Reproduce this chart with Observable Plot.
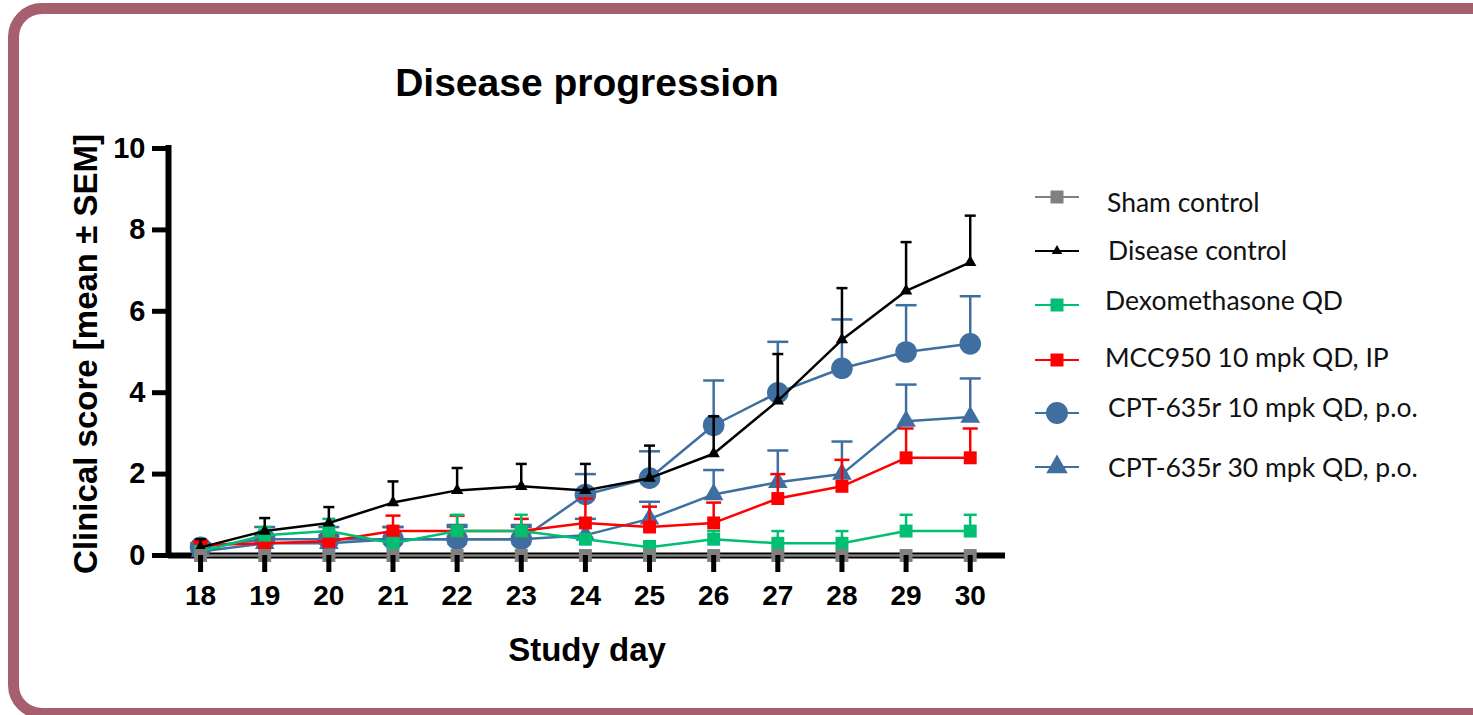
<!DOCTYPE html>
<html>
<head>
<meta charset="utf-8">
<script src="https://cdn.jsdelivr.net/npm/d3@7"></script>
<script src="https://cdn.jsdelivr.net/npm/@observablehq/plot@0.6"></script>
<style>
  html, body { margin: 0; padding: 0; background: #fff; overflow: hidden; }
  #wrap { position: relative; width: 1473px; height: 715px; overflow: hidden; background: #fff; }
  #border { position: absolute; left: 8px; top: 3px; width: 1600px; height: 716px; box-sizing: border-box;
            border: 11px solid #a65f6e; border-radius: 34px; }
  #chart, #legend { position: absolute; left: 0; top: 0; }
</style>
</head>
<body>
<div id="wrap"><div id="border"></div><div id="chart"></div><div id="legend"></div></div>
<script>
// ---- data ----
const days = [18, 19, 20, 21, 22, 23, 24, 25, 26, 27, 28, 29, 30];
const yTicks = [0, 2, 4, 6, 8, 10];

const seriesNames = ["Sham control", "Disease control", "Dexomethasone QD",
  "MCC950 10 mpk QD, IP", "CPT-635r 10 mpk QD, p.o.", "CPT-635r 30 mpk QD, p.o."];

const shamMean    = [0, 0, 0, 0, 0, 0, 0, 0, 0, 0, 0, 0, 0];
const shamSem     = [0, 0, 0, 0, 0, 0, 0, 0, 0, 0, 0, 0, 0];
const diseaseMean = [0.2, 0.6, 0.8, 1.3, 1.6, 1.7, 1.6, 1.9, 2.5, 3.8, 5.3, 6.5, 7.2];
const diseaseSem  = [0.2, 0.32, 0.39, 0.52, 0.55, 0.55, 0.65, 0.8, 0.92, 1.15, 1.27, 1.2, 1.15];
const dexMean     = [0.1, 0.5, 0.6, 0.3, 0.6, 0.6, 0.4, 0.2, 0.4, 0.3, 0.3, 0.6, 0.6];
const dexSem      = [0.1, 0.2, 0.3, 0.1, 0.4, 0.4, 0.1, 0.15, 0.2, 0.3, 0.3, 0.4, 0.4];
const mccMean     = [0.25, 0.3, 0.35, 0.6, 0.6, 0.6, 0.8, 0.7, 0.8, 1.4, 1.7, 2.4, 2.4];
const mccSem      = [0.1, 0.1, 0.15, 0.38, 0.38, 0.3, 0.6, 0.5, 0.5, 0.6, 0.65, 0.72, 0.72];
const cpt10Mean   = [0.2, 0.4, 0.4, 0.4, 0.4, 0.4, 1.5, 1.9, 3.2, 4.0, 4.6, 5.0, 5.2];
const cpt10Sem    = [0.1, 0.3, 0.3, 0.3, 0.35, 0.35, 0.5, 0.66, 1.1, 1.25, 1.2, 1.15, 1.17];
const cpt30Mean   = [0.1, 0.3, 0.3, 0.4, 0.4, 0.4, 0.5, 0.9, 1.5, 1.8, 2.0, 3.3, 3.4];
const cpt30Sem    = [0.1, 0.2, 0.2, 0.3, 0.3, 0.3, 0.4, 0.42, 0.6, 0.78, 0.8, 0.9, 0.95];

// ---- styles ----
const series = [
  {name: seriesNames[0], mean: shamMean,    sem: shamSem,    color: "#808080", symbol: "square",   r: 7.3, capR: 0},
  {name: seriesNames[1], mean: diseaseMean, sem: diseaseSem, color: "#000000", symbol: "triangle", r: 4.6, capR: 5.5},
  {name: seriesNames[2], mean: dexMean,     sem: dexSem,     color: "#00bf73", symbol: "square",   r: 7.3, capR: 6.5},
  {name: seriesNames[3], mean: mccMean,     sem: mccSem,     color: "#ff0000", symbol: "square",   r: 7.3, capR: 7.5},
  {name: seriesNames[4], mean: cpt10Mean,   sem: cpt10Sem,   color: "#3f6fa0", symbol: "circle",   r: 10.8, capR: 10.5},
  {name: seriesNames[5], mean: cpt30Mean,   sem: cpt30Sem,   color: "#3f6fa0", symbol: "triangle", r: 7.3, capR: 10.5}
];

const capSymbol = {
  draw(context, size) {
    const w = Math.sqrt(size / Math.PI);
    context.moveTo(-w, 0);
    context.lineTo(w, 0);
  }
};

const xDomain = [17.5, 30.55];
const marks = [];

// axis lines
marks.push(Plot.ruleY([0], {stroke: "black", strokeWidth: 6}));
marks.push(Plot.ruleX([xDomain[0]], {y1: 0, y2: yTicks[yTicks.length - 1], stroke: "black", strokeWidth: 6, strokeLinecap: "square"}));

// series, last drawn first (so sham control ends on top)
[...series].reverse().forEach(s => {
  const rows = days.map((d, i) => ({day: d, mean: s.mean[i], sem: s.sem[i]}));
  const err = rows.filter(d => d.sem > 0);
  marks.push(Plot.line(rows, {x: "day", y: "mean", stroke: s.color, strokeWidth: 2.5}));
  if (err.length) {
    marks.push(Plot.ruleX(err, {x: "day", y1: "mean", y2: d => d.mean + d.sem, stroke: s.color, strokeWidth: 2.5}));
    marks.push(Plot.dot(err, {x: "day", y: d => d.mean + d.sem, symbol: capSymbol, r: s.capR, stroke: s.color, strokeWidth: 2.5, fill: "none"}));
  }
  marks.push(Plot.dot(rows, {x: "day", y: "mean", symbol: s.symbol, r: s.r, fill: s.color, stroke: "none"}));
});

// axes
marks.push(Plot.axisY({ticks: yTicks, tickSize: 16, tickPadding: 7, strokeWidth: 5, fontSize: 29, fontWeight: "bold", label: null}));
marks.push(Plot.axisX({ticks: days, tickSize: 17, tickPadding: 13, strokeWidth: 5, fontSize: 28, fontWeight: "bold", label: null, tickFormat: d => String(d)}));

// titles
marks.push(Plot.text(["Disease progression"], {text: d => d, frameAnchor: "top", lineAnchor: "middle", dy: -65, fontSize: 39, fontWeight: "bold"}));
marks.push(Plot.text(["Study day"], {text: d => d, frameAnchor: "bottom", lineAnchor: "middle", dy: 95, fontSize: 33, fontWeight: "bold"}));
marks.push(Plot.text(["Clinical score [mean ± SEM]"], {text: d => d, frameAnchor: "left", textAnchor: "middle", lineAnchor: "middle", rotate: -90, dx: -82, dy: 2, fontSize: 33, fontWeight: "bold"}));

const chart = Plot.plot({
  width: 1473,
  height: 715,
  marginLeft: 168,
  marginRight: 468,
  marginTop: 148,
  marginBottom: 160,
  style: {fontFamily: "'Liberation Sans', Arial, sans-serif", fontWeight: "bold", color: "black", background: "transparent", overflow: "visible"},
  x: {domain: xDomain},
  y: {domain: [0, 10]},
  marks
});
document.getElementById("chart").appendChild(chart);

// ---- legend ----
const legendSymbolY = [197, 251, 305, 360, 413, 467];
const legendTextY = [203, 251, 301, 358, 408, 468];
const legendTextX = [1107, 1108, 1105, 1105, 1108, 1108];
const legendSym = [
  {type: d3.symbolSquare, size: 169},
  {type: d3.symbolTriangle, size: 48},
  {type: d3.symbolSquare, size: 169},
  {type: d3.symbolSquare, size: 169},
  {type: d3.symbolCircle, size: 380},
  {type: d3.symbolTriangle, size: 200}
];
const lsvg = d3.select("#legend").append("svg").attr("width", 1473).attr("height", 715);
series.forEach((s, i) => {
  const g = lsvg.append("g");
  g.append("line").attr("x1", 1035).attr("x2", 1079).attr("y1", legendSymbolY[i]).attr("y2", legendSymbolY[i])
    .attr("stroke", s.color).attr("stroke-width", 2);
  g.append("path").attr("d", d3.symbol(legendSym[i].type, legendSym[i].size)())
    .attr("transform", `translate(1057,${legendSymbolY[i]})`).attr("fill", s.color);
  g.append("text").attr("x", legendTextX[i]).attr("y", legendTextY[i]).attr("dy", "0.35em")
    .attr("font-family", "Lato, 'Open Sans', sans-serif").attr("font-size", 26.5).attr("fill", "#111")
    .text(s.name);
});
</script>
</body>
</html>
